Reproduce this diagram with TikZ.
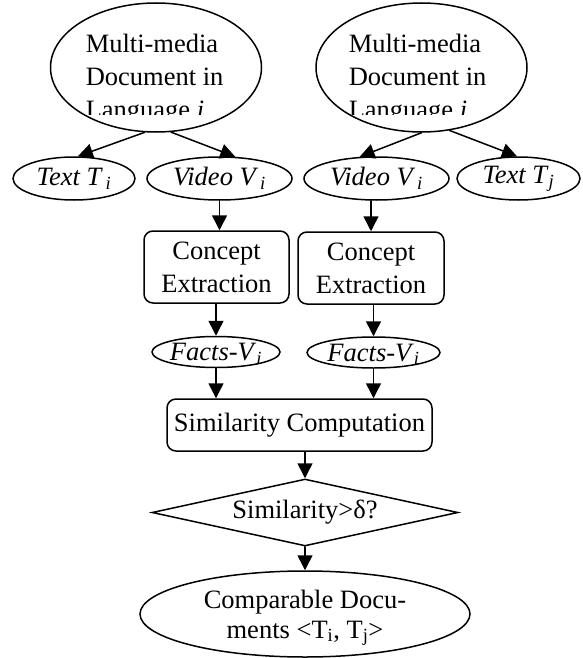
\documentclass[tikz,border=0pt]{standalone}
\usepackage{fontspec}
\setmainfont{Liberation Serif}
\usetikzlibrary{shapes.geometric,arrows.meta}

\begin{document}
\begin{tikzpicture}[x=1pt,y=-1pt,line width=1.5pt,line cap=round,
            font={\fontsize{26.5}{33}\selectfont},
            doc/.style={draw,ellipse,inner sep=0pt,minimum width=211pt,minimum height=129pt},
            item/.style={draw,ellipse,inner sep=-2pt,minimum height=43pt},
            proc/.style={draw,rounded corners=9pt,inner sep=0pt,align=center},
            arr/.style={-{Triangle[length=15pt,width=15pt]}}]
            \useasboundingbox (0,0) rectangle (582,658);

            \node[doc] (docI) at (156,67.5) {};
            \node[doc] (docJ) at (421.5,67.5) {};
            \begin{scope}
                \clip (0,0) rectangle (582,115);
                \node[anchor=north west,align=left,inner sep=0pt] (docItext) at (85,33) {Multi-media\\Document in\\Language \textit{i}};
                \node[anchor=north west,align=left,inner sep=0pt] (docJtext) at (348,33) {Multi-media\\Document in\\Language \textit{i}};
            \end{scope}

            \node[item,minimum width=122pt] (textI) at (74,178.5) {\textit{Text T\,}\textsubscript{\textit{i}}};
            \node[item,minimum width=145pt] (videoI) at (219.5,178.5) {\textit{Video V\,}\textsubscript{\textit{i}}};
            \node[item,minimum width=145pt] (videoJ) at (376.5,178.5) {\textit{Video V\,}\textsubscript{\textit{i}}};
            \node[item,minimum width=123pt] (textJ) at (518.5,178.5) {\textit{Text T}\textsubscript{\textit{j}}};

            \draw[arr] (docI.260) -- (textI.80);
            \draw[arr] (docI.283) -- (videoI.54);
            \draw[arr] (docJ.270) -- (videoJ.128);
            \draw[arr] (docJ.294) -- (textJ.94);

            \node[proc,minimum width=145pt,minimum height=72pt] (conceptI) at (216.5,267) {Concept\\Extraction};
            \node[proc,minimum width=146pt,minimum height=72pt] (conceptJ) at (371,268) {Concept\\Extraction};

            \node[item,minimum width=128pt,minimum height=31pt,text depth=0pt] (factsI) at (216,352) {\textit{Facts-V}\textsubscript{\textit{i}}};
            \node[item,minimum width=133pt,minimum height=31pt,text depth=0pt] (factsJ) at (373.5,352.5) {\textit{Facts-V}\textsubscript{\textit{i}}};

            \node[proc,minimum width=265pt,minimum height=52pt] (simcomp) at (299.5,425) {Similarity Computation};
            \node[draw,diamond,aspect=4.57,inner sep=0pt,minimum width=306pt,minimum height=67pt] (decide) at (305,512.5) {Similarity>δ?};
            \node[draw,ellipse,inner sep=0pt,minimum width=330pt,minimum height=86pt,align=center,text depth=0pt,
                  font={\fontsize{26.5}{30}\selectfont}] (result) at (305,614) {Comparable Docu-\\ments <T\textsubscript{i}, T\textsubscript{j}>};

            \draw[arr] (videoI.south) -- (videoI.south |- conceptI.north);
            \draw[arr] (conceptJ.north |- videoJ.south) -- (conceptJ.north);
            \draw[arr] (factsI.north |- conceptI.south) -- (factsI.north);
            \draw[arr] (factsJ.north |- conceptJ.south) -- (factsJ.north);
            \draw[arr] (factsI.south) -- (factsI.south |- simcomp.north);
            \draw[arr] (factsJ.south) -- (factsJ.south |- simcomp.north);
            \draw[arr] (decide.north |- simcomp.south) -- (decide.north);
            \draw[arr] (decide.south) -- (decide.south |- result.north);
        \end{tikzpicture}
\end{document}
